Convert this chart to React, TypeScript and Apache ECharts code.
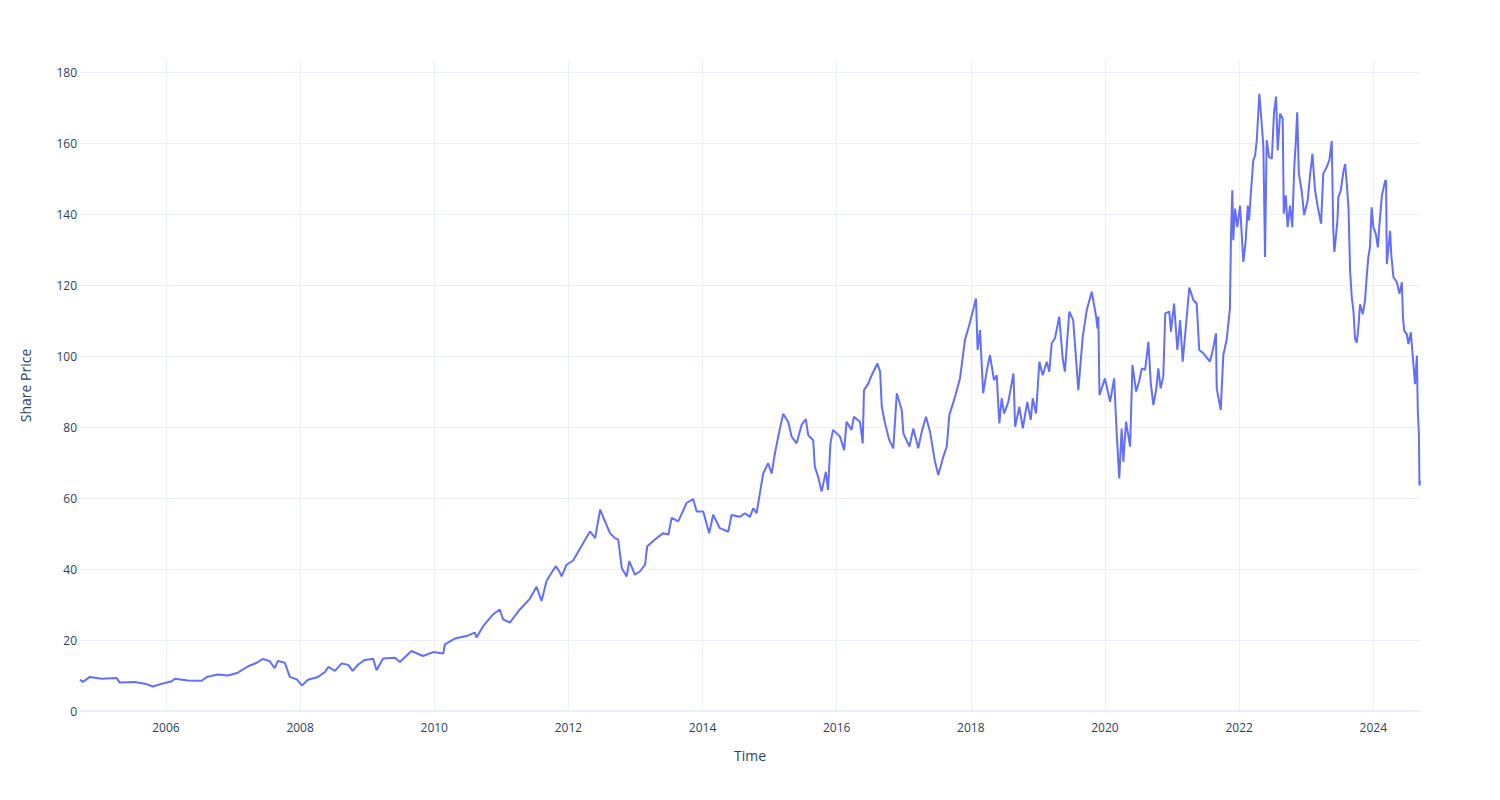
import React, { useEffect, useRef } from 'react';
import * as echarts from 'echarts';

const dates: string[] = [
  '2004-09-20','2004-10-06','2004-11-13','2005-01-17','2005-04-08','2005-04-24','2005-07-15','2005-09-08','2005-10-22','2005-12-10',
  '2006-02-02','2006-02-18','2006-04-30','2006-07-15','2006-08-11','2006-10-10','2006-12-04','2007-01-27','2007-03-24','2007-05-11',
  '2007-06-13','2007-07-20','2007-08-16','2007-09-02','2007-10-10','2007-11-06','2007-12-14','2008-01-11','2008-02-13','2008-04-08',
  '2008-05-16','2008-06-03','2008-07-09','2008-08-15','2008-09-20','2008-10-14','2008-11-13','2008-12-20','2009-02-03','2009-02-21',
  '2009-03-29','2009-06-01','2009-06-28','2009-08-30','2009-11-01','2009-12-26','2010-02-19','2010-02-28','2010-04-23','2010-06-26',
  '2010-08-10','2010-08-19','2010-09-24','2010-11-17','2010-12-23','2011-01-11','2011-02-16','2011-04-12','2011-06-05','2011-07-12',
  '2011-08-08','2011-09-04','2011-10-02','2011-10-25','2011-11-16','2011-11-25','2011-12-22','2012-01-27','2012-03-22','2012-04-28',
  '2012-05-26','2012-06-22','2012-07-19','2012-08-15','2012-09-11','2012-09-29','2012-10-18','2012-11-14','2012-11-28','2012-12-29',
  '2013-01-25','2013-02-22','2013-03-06','2013-04-17','2013-06-01','2013-06-29','2013-07-17','2013-08-22','2013-10-06','2013-11-11',
  '2013-11-30','2014-01-05','2014-02-06','2014-02-28','2014-04-05','2014-05-21','2014-06-08','2014-07-23','2014-08-20','2014-09-16',
  '2014-10-04','2014-10-22','2014-11-09','2014-11-27','2014-12-24','2015-01-12','2015-01-30','2015-02-26','2015-03-16','2015-04-12',
  '2015-05-01','2015-05-28','2015-06-24','2015-07-17','2015-07-30','2015-08-26','2015-09-04','2015-09-22','2015-10-11','2015-11-03',
  '2015-11-15','2015-11-28','2015-12-12','2016-01-19','2016-02-11','2016-02-24','2016-03-22','2016-04-04','2016-05-07','2016-05-22',
  '2016-05-29','2016-06-22','2016-07-10','2016-08-10','2016-08-25','2016-09-03','2016-09-21','2016-10-14','2016-11-05','2016-11-24',
  '2016-12-21','2016-12-30','2017-02-01','2017-02-22','2017-03-21','2017-04-09','2017-05-02','2017-05-24','2017-06-20','2017-07-08',
  '2017-08-04','2017-08-23','2017-09-06','2017-10-07','2017-11-03','2017-11-30','2017-12-23','2018-01-18','2018-01-29','2018-02-07',
  '2018-02-20','2018-03-09','2018-03-28','2018-04-15','2018-05-07','2018-05-22','2018-06-05','2018-06-18','2018-07-01','2018-07-24',
  '2018-08-21','2018-08-30','2018-09-22','2018-10-11','2018-11-04','2018-11-23','2018-12-04','2018-12-22','2019-01-09','2019-01-27',
  '2019-02-18','2019-03-04','2019-03-17','2019-04-04','2019-04-27','2019-05-16','2019-05-28','2019-06-21','2019-07-12','2019-08-09',
  '2019-09-02','2019-09-24','2019-10-21','2019-11-14','2019-11-21','2019-11-26','2019-12-02','2020-01-01','2020-01-29','2020-02-20',
  '2020-03-05','2020-03-19','2020-04-01','2020-04-10','2020-04-25','2020-05-17','2020-05-30','2020-06-19','2020-07-07','2020-07-20',
  '2020-08-07','2020-08-25','2020-09-07','2020-09-21','2020-10-06','2020-10-18','2020-10-31','2020-11-14','2020-11-25','2020-12-17',
  '2020-12-26','2021-01-12','2021-01-30','2021-02-14','2021-02-28','2021-03-18','2021-04-05','2021-04-27','2021-05-15','2021-05-29',
  '2021-06-20','2021-07-26','2021-08-13','2021-08-28','2021-09-01','2021-09-23','2021-10-07','2021-10-25','2021-11-12','2021-11-18',
  '2021-11-25','2021-11-30','2021-12-10','2021-12-22','2022-01-06','2022-01-24','2022-02-06','2022-02-17','2022-02-24','2022-03-07',
  '2022-03-19','2022-03-29','2022-04-07','2022-04-21','2022-05-04','2022-05-13','2022-05-22','2022-05-31','2022-06-13','2022-06-28',
  '2022-07-10','2022-07-21','2022-07-30','2022-08-12','2022-08-26','2022-09-01','2022-09-12','2022-09-22','2022-10-05','2022-10-17',
  '2022-10-28','2022-11-06','2022-11-13','2022-11-22','2022-12-07','2022-12-21','2023-01-09','2023-01-22','2023-02-04','2023-02-18',
  '2023-03-05','2023-03-23','2023-04-04','2023-04-22','2023-05-07','2023-05-20','2023-05-28','2023-06-03','2023-06-20','2023-06-25',
  '2023-07-08','2023-07-23','2023-08-01','2023-08-10','2023-08-19','2023-08-28','2023-09-06','2023-09-15','2023-09-24','2023-10-03',
  '2023-10-12','2023-10-21','2023-11-05','2023-11-17','2023-11-26','2023-12-05','2023-12-14','2023-12-23','2024-01-02','2024-01-15',
  '2024-01-26','2024-02-04','2024-02-17','2024-03-06','2024-03-11','2024-03-15','2024-04-02','2024-04-08','2024-04-20','2024-05-09',
  '2024-05-23','2024-06-05','2024-06-11','2024-06-18','2024-07-02','2024-07-11','2024-07-24','2024-08-07','2024-08-16','2024-08-26',
  '2024-08-31','2024-09-06','2024-09-09','2024-09-12'
];

const prices: number[] = [
  8.8, 8.2, 9.6, 9.1, 9.3, 8.0, 8.2, 7.7, 6.9, 7.7,
  8.4, 9.1, 8.6, 8.5, 9.6, 10.3, 10.0, 10.8, 12.6, 13.6,
  14.7, 14.0, 12.1, 14.1, 13.6, 9.6, 8.9, 7.2, 8.8, 9.6,
  11.0, 12.4, 11.3, 13.4, 13.0, 11.3, 13.1, 14.4, 14.7, 11.5,
  14.8, 15.0, 13.8, 16.9, 15.5, 16.6, 16.2, 18.8, 20.4, 21.1,
  22.1, 20.7, 23.9, 27.2, 28.6, 25.8, 24.9, 28.6, 31.6, 35.0,
  31.0, 36.6, 39.0, 40.8, 39.0, 37.9, 41.2, 42.4, 47.3, 50.6,
  48.7, 56.7, 53.4, 50.1, 48.7, 48.3, 40.3, 37.9, 42.2, 38.4,
  39.3, 41.2, 46.4, 48.3, 50.1, 49.7, 54.4, 53.4, 58.6, 59.7,
  56.2, 56.2, 50.1, 55.3, 51.5, 50.5, 55.2, 54.7, 55.7, 54.7,
  57.1, 55.7, 61.3, 66.9, 69.8, 66.9, 72.6, 79.6, 83.7, 81.5,
  77.3, 75.4, 80.6, 82.2, 77.7, 76.3, 68.8, 66.0, 61.8, 67.4,
  62.3, 75.4, 79.2, 77.3, 73.5, 81.5, 79.2, 82.9, 81.5, 75.4,
  90.4, 92.3, 94.6, 97.9, 95.6, 85.7, 81.0, 76.3, 74.0, 89.5,
  84.8, 78.2, 74.5, 79.6, 74.0, 78.7, 82.9, 78.7, 70.2, 66.5,
  71.6, 74.5, 83.4, 88.5, 93.7, 104.5, 108.7, 113.9, 116.2, 101.7,
  107.3, 89.5, 95.6, 100.3, 93.2, 94.6, 81.0, 88.1, 83.8, 87.1,
  95.1, 80.1, 85.7, 79.6, 87.1, 82.0, 88.1, 83.8, 98.4, 94.6,
  98.4, 95.6, 103.6, 105.0, 111.1, 99.3, 95.6, 112.5, 110.1, 90.4,
  105.4, 113.0, 118.1, 111.1, 107.8, 111.1, 89.0, 93.7, 87.1, 93.7,
  78.2, 65.5, 79.6, 70.2, 81.5, 74.5, 97.5, 90.0, 93.2, 96.5,
  96.1, 104.0, 92.3, 86.2, 90.4, 96.5, 90.9, 94.2, 112.0, 112.5,
  106.9, 114.8, 101.7, 110.1, 98.4, 108.7, 119.3, 115.8, 114.8, 101.7,
  100.8, 98.4, 102.2, 106.4, 90.9, 84.8, 100.3, 104.5, 113.4, 134.5,
  146.7, 132.6, 141.5, 136.3, 142.4, 126.5, 132.6, 142.4, 138.2, 146.7,
  155.1, 156.5, 160.8, 173.9, 165.4, 158.9, 127.9, 160.8, 156.1, 155.6,
  168.7, 173.1, 157.9, 168.3, 166.9, 140.1, 145.3, 136.3, 142.4, 136.3,
  153.2, 160.8, 168.7, 151.4, 146.7, 139.7, 143.8, 150.9, 157.0, 146.7,
  142.0, 137.3, 151.4, 153.2, 155.1, 160.6, 136.3, 129.3, 138.1, 144.7,
  146.6, 152.2, 154.1, 148.5, 141.9, 124.0, 116.5, 112.8, 104.8, 103.8,
  108.1, 114.6, 111.8, 115.6, 122.2, 127.8, 130.6, 141.9, 136.2, 134.4,
  130.6, 137.2, 145.2, 149.4, 149.4, 125.9, 135.3, 128.7, 122.2, 120.8,
  117.5, 120.8, 110.9, 107.1, 106.2, 103.4, 106.7, 97.7, 92.1, 100.1,
  84.6, 78.0, 63.5, 64.8
];

const yearTicks: number[] = [2006, 2008, 2010, 2012, 2014, 2016, 2018, 2020, 2022, 2024];

// date string -> fractional year
const toYear = (d: string) => {
  const [y, m, day] = d.split('-').map(Number);
  const start = Date.UTC(y, 0, 1);
  const end = Date.UTC(y + 1, 0, 1);
  return y + (Date.UTC(y, m - 1, day) - start) / (end - start);
};

export default function App() {
  const ref = useRef<HTMLDivElement>(null);
  useEffect(() => {
    document.body.style.margin = '0';
    const chart = echarts.init(ref.current!, null, { renderer: 'svg' });
    const font = '"Open Sans", verdana, arial, sans-serif';
    chart.setOption({
      animation: false,
      backgroundColor: '#ffffff',
      textStyle: { fontFamily: font },
      grid: { left: 80, right: 80, top: 60, bottom: 89, containLabel: false },
      xAxis: {
        type: 'value',
        min: toYear(dates[0]),
        max: toYear(dates[dates.length - 1]),
        name: 'Time',
        nameLocation: 'middle',
        nameGap: 37,
        nameTextStyle: { color: '#2a3f5f', fontSize: 14, fontFamily: font },
        axisLine: { show: true, onZero: false, lineStyle: { color: '#ebf0f8', width: 2 } },
        axisTick: { show: false, customValues: yearTicks },
        axisLabel: {
          customValues: yearTicks,
          color: '#2a3f5f',
          fontSize: 12,
          margin: 10,
          fontFamily: font,
          formatter: (v: number) => String(Math.round(v)),
        },
        splitLine: { show: true, lineStyle: { color: '#ebf0f8', width: 1 } },
      },
      yAxis: {
        type: 'value',
        min: 0,
        max: 183.4,
        interval: 20,
        name: 'Share Price',
        nameLocation: 'middle',
        nameGap: 48,
        nameTextStyle: { color: '#2a3f5f', fontSize: 14, fontFamily: font },
        axisLine: { show: false },
        axisTick: { show: false },
        axisLabel: { color: '#2a3f5f', fontSize: 12, margin: 3, showMaxLabel: false, fontFamily: font },
        splitLine: { show: true, showMinLine: false, showMaxLine: false, lineStyle: { color: '#ebf0f8', width: 1 } },
      },
      series: [
        {
          type: 'line',
          data: dates.map((d, i) => [toYear(d), prices[i]]),
          showSymbol: false,
          symbol: 'none',
          lineStyle: { color: '#636efa', width: 2 },
          itemStyle: { color: '#636efa' },
        },
      ],
    });
    return () => chart.dispose();
  }, []);
  return <div ref={ref} style={{ width: 1500, height: 800 }} />;
}
